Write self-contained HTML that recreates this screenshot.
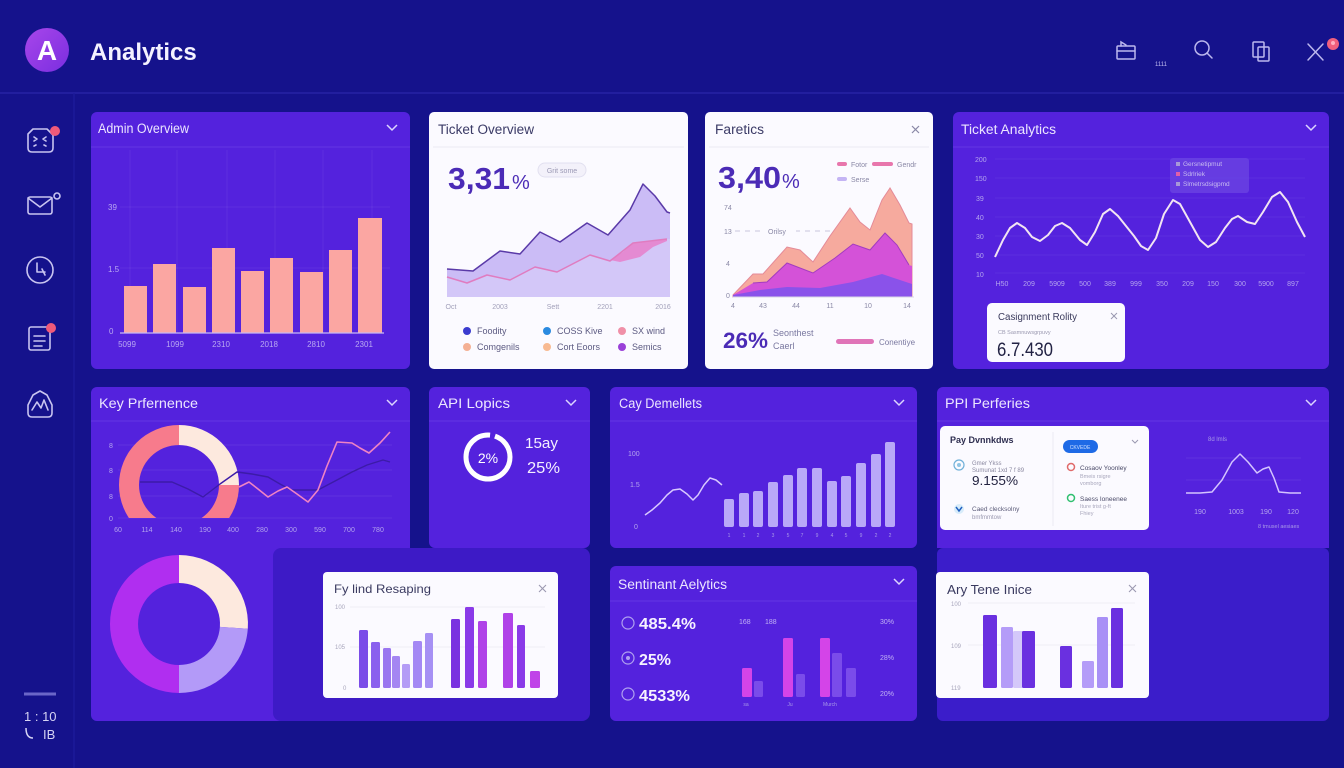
<!DOCTYPE html>
<html>
<head>
<meta charset="utf-8">
<style>
html,body{margin:0;padding:0;background:#15128c;}
svg{display:block;font-family:"Liberation Sans",sans-serif;}
</style>
</head>
<body>
<svg width="1344" height="768" viewBox="0 0 1344 768" xmlns="http://www.w3.org/2000/svg">
<defs>
<linearGradient id="logo" x1="0" y1="0" x2="1" y2="1">
<stop offset="0" stop-color="#a846ea"/><stop offset="1" stop-color="#7a2ee0"/>
</linearGradient>
<clipPath id="kpclip"><rect x="91" y="421" width="319" height="97"/></clipPath>
</defs>

<!-- background -->
<rect x="0" y="0" width="1344" height="768" fill="#15128c"/>
<line x1="0" y1="93" x2="1344" y2="93" stroke="#2622a4" stroke-width="1.5"/>
<line x1="74" y1="93" x2="74" y2="768" stroke="#1d1a9a" stroke-width="1.5"/>

<!-- header -->
<circle cx="47" cy="50" r="22" fill="url(#logo)"/>
<text x="47" y="60" font-size="28" font-weight="bold" fill="#fff" text-anchor="middle">A</text>
<text x="90" y="60" font-size="24" font-weight="bold" fill="#f4f2ff">Analytics</text>

<g fill="none" stroke="#bcb8ee" stroke-width="1.5" stroke-linecap="round">
<rect x="1117" y="46" width="18" height="13" rx="1"/>
<line x1="1117" y1="51" x2="1135" y2="51"/>
<polyline points="1121,46 1121,42 1126,45"/>
<circle cx="1202" cy="48" r="7"/>
<line x1="1207" y1="53" x2="1212" y2="58"/>
<rect x="1253" y="42" width="11" height="15" rx="1"/>
<rect x="1258" y="47" width="11" height="14" rx="1"/>
<line x1="1308" y1="44" x2="1323" y2="60"/>
<line x1="1323" y1="44" x2="1308" y2="60"/>
</g>
<text x="1161" y="66" font-size="6" fill="#bcb8ee" text-anchor="middle">1111</text>
<circle cx="1333" cy="44" r="6" fill="#f0607e"/>
<circle cx="1333" cy="43" r="2" fill="#ffb0c0"/>

<!-- sidebar icons -->
<g fill="none" stroke="#c8c4f0" stroke-width="1.6" stroke-linecap="round" stroke-linejoin="round">
<path d="M33,129 L47,129 L53,135 L53,148 Q53,152 49,152 L32,152 Q28,152 28,148 L28,134 Z"/>
<path d="M34,137 l3,2 l-3,2 M46,137 l-3,2 l3,2 M34,146 l2,-1 M46,146 l-2,-1"/>
<rect x="28" y="197" width="24" height="17" rx="2"/>
<polyline points="28,198 40,207 52,198"/>
<circle cx="57" cy="196" r="3"/>
<circle cx="40" cy="270" r="13"/>
<polyline points="37,263 37,272 45,272"/>
<line x1="42" y1="269" x2="45" y2="275"/>
<rect x="29" y="327" width="21" height="23" rx="2"/>
<line x1="34" y1="336" x2="45" y2="336"/><line x1="34" y1="341" x2="45" y2="341"/><line x1="34" y1="346" x2="42" y2="346"/>
<path d="M33,395 L40,391 L47,395 L52,405 L52,413 Q52,417 48,417 L32,417 Q28,417 28,413 L28,405 Z"/>
<polyline points="32,410 37,402 41,408 44,400 48,410"/>
</g>
<circle cx="55" cy="131" r="5" fill="#ef5a7a"/>
<circle cx="51" cy="328" r="5" fill="#ef5a7a"/>
<line x1="24" y1="694" x2="56" y2="694" stroke="#6a66c8" stroke-width="3"/>
<text x="24" y="721" font-size="13" fill="#d6d4f4">1 : 10</text>
<path d="M26,728 Q26,738 33,738" fill="none" stroke="#d6d4f4" stroke-width="1.5"/>
<text x="43" y="739" font-size="13" fill="#d6d4f4">IB</text>

<!-- ============ Admin Overview ============ -->
<rect x="91" y="112" width="319" height="257" rx="6" fill="#5422dd"/>
<text x="98" y="133" font-size="13.5" fill="#ece6ff" textLength="91" lengthAdjust="spacingAndGlyphs">Admin Overview</text>
<polyline points="387,125 392,130 397,125" fill="none" stroke="#dcd4ff" stroke-width="1.5"/>
<line x1="91" y1="147" x2="410" y2="147" stroke="#6537e4" stroke-width="1"/>
<g stroke="#ffffff" stroke-opacity="0.06">
<line x1="130" y1="150" x2="130" y2="333"/><line x1="177" y1="150" x2="177" y2="333"/><line x1="227" y1="150" x2="227" y2="333"/><line x1="275" y1="150" x2="275" y2="333"/><line x1="323" y1="150" x2="323" y2="333"/><line x1="372" y1="150" x2="372" y2="333"/>
<line x1="120" y1="207" x2="390" y2="207"/><line x1="120" y1="268" x2="390" y2="268"/>
</g>
<g font-size="8" fill="#b9a8f2">
<text x="108" y="210">39</text><text x="108" y="272">1.5</text><text x="109" y="334">0</text>
</g>
<g fill="#fba6a2">
<rect x="124" y="286" width="23" height="47"/>
<rect x="153" y="264" width="23" height="69"/>
<rect x="183" y="287" width="23" height="46"/>
<rect x="212" y="248" width="23" height="85"/>
<rect x="241" y="271" width="23" height="62"/>
<rect x="270" y="258" width="23" height="75"/>
<rect x="300" y="272" width="23" height="61"/>
<rect x="329" y="250" width="23" height="83"/>
<rect x="358" y="218" width="24" height="115"/>
</g>
<line x1="120" y1="333" x2="384" y2="333" stroke="#c8b8f4" stroke-width="1.2"/>
<g font-size="8" fill="#b9a8f2" text-anchor="middle">
<text x="127" y="347">5099</text><text x="175" y="347">1099</text><text x="221" y="347">2310</text><text x="269" y="347">2018</text><text x="316" y="347">2810</text><text x="364" y="347">2301</text>
</g>

<!-- ============ Ticket Overview ============ -->
<rect x="429" y="112" width="259" height="257" rx="5" fill="#fbfaff"/>
<text x="438" y="134" font-size="13.5" fill="#3a3a66" textLength="96" lengthAdjust="spacingAndGlyphs">Ticket Overview</text>
<line x1="433" y1="147" x2="684" y2="147" stroke="#ebe9f3"/>
<text x="448" y="189" font-size="31" font-weight="bold" fill="#4b2bb6" textLength="62" lengthAdjust="spacingAndGlyphs">3,31</text>
<text x="512" y="189" font-size="20" fill="#4b2bb6">%</text>
<rect x="538" y="163" width="48" height="14" rx="7" fill="#f3f1fa" stroke="#e2e0f0"/>
<text x="562" y="173" font-size="7" fill="#9a98b4" text-anchor="middle">Grit some</text>
<polygon points="447,297 447,269 473,271 500,251 520,254 540,232 560,242 587,223 608,235 630,210 643,184 655,196 667,212 670,213 670,297" fill="#cbbcf6"/>
<polygon points="447,297 447,277 467,283 487,275 510,280 535,267 557,272 590,255 610,261 633,243 667,239 670,239 670,297" fill="#d3c7f8"/>
<polyline points="447,269 473,271 500,251 520,254 540,232 560,242 587,223 608,235 630,210 643,184 655,196 667,212 670,213" fill="none" stroke="#5a3aa8" stroke-width="1.5" stroke-linejoin="round"/>
<polygon points="600,258 610,260 623,252 633,243 647,241 667,239 667,241 653,247 640,257 620,262" fill="#e48ad2"/>
<polyline points="447,277 467,283 487,275 510,280 535,267 557,272 590,255 610,261 633,243 667,239" fill="none" stroke="#e07cc0" stroke-width="1.5" stroke-linejoin="round"/>
<g font-size="7" fill="#a2a0ba" text-anchor="middle">
<text x="451" y="309">Oct</text><text x="500" y="309">2003</text><text x="553" y="309">Sett</text><text x="605" y="309">2201</text><text x="663" y="309">2016</text>
</g>
<g font-size="9" fill="#5c5a82">
<circle cx="467" cy="331" r="4" fill="#3b3bcf"/><text x="477" y="334">Foodity</text>
<circle cx="547" cy="331" r="4" fill="#2a8ae0"/><text x="557" y="334">COSS Kive</text>
<circle cx="622" cy="331" r="4" fill="#f090a8"/><text x="632" y="334">SX wind</text>
<circle cx="467" cy="347" r="4" fill="#f4b094"/><text x="477" y="350">Comgenils</text>
<circle cx="547" cy="347" r="4" fill="#f8ba92"/><text x="557" y="350">Cort Eoors</text>
<circle cx="622" cy="347" r="4" fill="#9a40d8"/><text x="632" y="350">Semics</text>
</g>

<!-- ============ Faretics ============ -->
<rect x="705" y="112" width="228" height="257" rx="5" fill="#fbfaff"/>
<text x="715" y="134" font-size="13.5" fill="#3a3a66" textLength="49" lengthAdjust="spacingAndGlyphs">Faretics</text>
<g stroke="#8a88a6" stroke-width="1.2"><line x1="912" y1="126" x2="919" y2="133"/><line x1="919" y1="126" x2="912" y2="133"/></g>
<line x1="709" y1="147" x2="929" y2="147" stroke="#ebe9f3"/>
<text x="718" y="188" font-size="31" font-weight="bold" fill="#4b2bb6" textLength="63" lengthAdjust="spacingAndGlyphs">3,40</text>
<text x="782" y="188" font-size="20" fill="#4b2bb6">%</text>
<rect x="837" y="162" width="10" height="4" rx="2" fill="#e876ac"/>
<text x="851" y="167" font-size="7" fill="#8a88a6">Fotor</text>
<rect x="872" y="162" width="21" height="4" rx="2" fill="#e876ac"/>
<text x="897" y="167" font-size="7" fill="#8a88a6">Gendr</text>
<rect x="837" y="177" width="10" height="4" rx="2" fill="#c4b4f4"/>
<text x="851" y="182" font-size="7" fill="#8a88a6">Serse</text>
<g font-size="7" fill="#8a88a6">
<text x="724" y="210">74</text><text x="724" y="234">13</text><text x="726" y="266">4</text><text x="726" y="298">0</text>
</g>
<line x1="735" y1="231" x2="830" y2="231" stroke="#c8c6dc" stroke-dasharray="5,5"/>
<rect x="760" y="226" width="36" height="10" fill="#fbfaff"/>
<text x="768" y="234" font-size="7" fill="#8a88a6">Orilsy</text>
<polygon points="733,297 733,295 753,274 763,274 787,247 800,250 813,262 830,236 850,208 860,222 870,230 882,200 890,188 900,205 909,223 912,224 912,297" fill="#f6aa9e" stroke="#e48a98" stroke-width="1"/>
<polygon points="733,297 733,295 753,283 767,282 787,263 813,273 835,258 853,244 870,250 885,233 897,245 909,265 912,266 912,297" fill="#d452d8"/>
<polyline points="753,283 767,282 787,263 813,273 835,258 853,244 870,250 885,233 897,245 909,265" fill="none" stroke="#a23cc0" stroke-width="1"/>
<polygon points="733,297 733,295 760,290 787,287 820,288 853,282 882,274 909,283 912,284 912,297" fill="#8a52ea"/>
<line x1="733" y1="297" x2="914" y2="297" stroke="#d8d6e6"/>
<g font-size="7" fill="#8a88a6" text-anchor="middle">
<text x="733" y="308">4</text><text x="763" y="308">43</text><text x="796" y="308">44</text><text x="830" y="308">11</text><text x="868" y="308">10</text><text x="907" y="308">14</text>
</g>
<text x="723" y="348" font-size="22" font-weight="bold" fill="#4b2bb6" textLength="45" lengthAdjust="spacingAndGlyphs">26%</text>
<text x="773" y="336" font-size="9" fill="#7a78a0">Seonthest</text>
<text x="773" y="349" font-size="9" fill="#7a78a0">Caerl</text>
<rect x="836" y="339" width="38" height="5" rx="2.5" fill="#e074b8"/>
<text x="879" y="345" font-size="8" fill="#7a78a0">Conentiye</text>

<!-- ============ Ticket Analytics ============ -->
<rect x="953" y="112" width="376" height="257" rx="6" fill="#5422dd"/>
<text x="961" y="134" font-size="13.5" fill="#ece6ff" textLength="95" lengthAdjust="spacingAndGlyphs">Ticket Analytics</text>
<polyline points="1306,125 1311,130 1316,125" fill="none" stroke="#dcd4ff" stroke-width="1.5"/>
<line x1="953" y1="147" x2="1329" y2="147" stroke="#6537e4"/>
<g stroke="#ffffff" stroke-opacity="0.05">
<line x1="995" y1="159" x2="1305" y2="159"/><line x1="995" y1="178" x2="1305" y2="178"/><line x1="995" y1="198" x2="1305" y2="198"/><line x1="995" y1="217" x2="1305" y2="217"/><line x1="995" y1="236" x2="1305" y2="236"/><line x1="995" y1="255" x2="1305" y2="255"/><line x1="995" y1="273" x2="1305" y2="273"/>
</g>
<g font-size="7" fill="#b4a4ee">
<text x="975" y="162">200</text><text x="975" y="181">150</text><text x="976" y="201">39</text><text x="976" y="220">40</text><text x="976" y="239">30</text><text x="976" y="258">50</text><text x="976" y="277">10</text>
</g>
<g font-size="7" fill="#b4a4ee" text-anchor="middle">
<text x="1002" y="286">H50</text><text x="1029" y="286">209</text><text x="1057" y="286">5909</text><text x="1085" y="286">500</text><text x="1110" y="286">389</text><text x="1136" y="286">999</text><text x="1162" y="286">350</text><text x="1188" y="286">209</text><text x="1213" y="286">150</text><text x="1240" y="286">300</text><text x="1266" y="286">5900</text><text x="1293" y="286">897</text>
</g>
<rect x="1170" y="158" width="79" height="35" rx="3" fill="#6a44e2" opacity="0.8"/>
<rect x="1176" y="162" width="4" height="4" fill="#a898d8"/><text x="1183" y="166" font-size="6.5" fill="#c8bcf0">Gersnetipmut</text>
<rect x="1176" y="172" width="4" height="4" fill="#e060a8"/><text x="1183" y="176" font-size="6.5" fill="#c8bcf0">Sdrlriek</text>
<rect x="1176" y="182" width="4" height="4" fill="#a898d8"/><text x="1183" y="186" font-size="6.5" fill="#c8bcf0">Slmetrsdsigpmd</text>
<polyline points="995,257 1003,240 1010,228 1017,223 1025,228 1032,237 1040,241 1048,235 1055,226 1062,223 1070,228 1080,240 1087,245 1095,232 1103,214 1110,209 1118,216 1126,226 1134,236 1141,246 1148,250 1156,238 1164,214 1173,200 1180,204 1190,222 1200,240 1208,247 1216,242 1225,228 1232,219 1238,216 1247,222 1255,224 1263,212 1272,197 1280,192 1288,202 1297,222 1305,237" fill="none" stroke="#f2e4f2" stroke-width="2" stroke-linejoin="round"/>
<rect x="987" y="303" width="138" height="59" rx="5" fill="#fbfaff"/>
<text x="998" y="320" font-size="10" fill="#3a3a5c" textLength="79" lengthAdjust="spacingAndGlyphs">Casignment Rolity</text>
<g stroke="#9a98b0" stroke-width="1"><line x1="1111" y1="313" x2="1117" y2="319"/><line x1="1117" y1="313" x2="1111" y2="319"/></g>
<text x="998" y="334" font-size="5.5" fill="#9a98b0">CB  Sasmnuwsgrpuvy</text>
<text x="997" y="356" font-size="19" fill="#222244" textLength="56" lengthAdjust="spacingAndGlyphs">6.7.430</text>

<!-- ============ Key Prfernence ============ -->
<rect x="91" y="387" width="319" height="334" rx="6" fill="#5422dd"/>
<text x="99" y="408" font-size="13.5" fill="#ece6ff" textLength="99" lengthAdjust="spacingAndGlyphs">Key Prfernence</text>
<polyline points="387,400 392,405 397,400" fill="none" stroke="#dcd4ff" stroke-width="1.5"/>
<line x1="91" y1="421" x2="410" y2="421" stroke="#6537e4"/>
<g stroke="#ffffff" stroke-opacity="0.08">
<line x1="118" y1="445" x2="392" y2="445"/><line x1="118" y1="470" x2="392" y2="470"/><line x1="118" y1="496" x2="392" y2="496"/><line x1="118" y1="518" x2="392" y2="518"/>
</g>
<g font-size="7" fill="#b4a4ee">
<text x="109" y="448">8</text><text x="109" y="473">8</text><text x="109" y="499">8</text><text x="109" y="521">0</text>
</g>
<g clip-path="url(#kpclip)">
<path d="M239,485 A60,60 0 1 1 179,425 L179,445 A40,40 0 1 0 219,485 Z" fill="#f77b8c"/>
<path d="M179,425 A60,60 0 0 1 239,485 L219,485 A40,40 0 0 0 179,445 Z" fill="#fde9de"/>
</g>
<polyline points="140,482 172,482 188,489 203,497 220,484 237,472 252,474 268,477 280,484 291,490 318,490 337,480 352,472 367,465 383,460 390,462" fill="none" stroke="#3c1ba8" stroke-width="1.4" stroke-linejoin="round"/>
<polyline points="239,487 249,482 258,489 268,497 278,491 287,487 297,494 308,502 318,490 327,466 337,442 352,443 360,448 369,453 380,443 390,432" fill="none" stroke="#f083c4" stroke-width="1.6" stroke-linejoin="round"/>
<g font-size="7" fill="#b4a4ee" text-anchor="middle">
<text x="118" y="532">60</text><text x="147" y="532">114</text><text x="176" y="532">140</text><text x="205" y="532">190</text><text x="233" y="532">400</text><text x="262" y="532">280</text><text x="291" y="532">300</text><text x="320" y="532">590</text><text x="349" y="532">700</text><text x="378" y="532">780</text>
</g>
<!-- lower donut -->
<path d="M179,693 A69,69 0 0 1 179,555 L179,583 A41,41 0 0 0 179,665 Z" fill="#b02ef0"/>
<path d="M179,555 A69,69 0 0 1 247.8,628.8 L219.9,626.9 A41,41 0 0 0 179,583 Z" fill="#fde9de"/>
<path d="M247.8,628.8 A69,69 0 0 1 179,693 L179,665 A41,41 0 0 0 219.9,626.9 Z" fill="#b39af8"/>

<!-- dark panel -->
<rect x="273" y="548" width="317" height="173" rx="8" fill="#3d1ac6"/>
<rect x="323" y="572" width="235" height="126" rx="4" fill="#fbfaff"/>
<text x="334" y="593" font-size="12" fill="#3a3a60" textLength="97" lengthAdjust="spacingAndGlyphs">Fy lind Resaping</text>
<g stroke="#9a98b0" stroke-width="1.1"><line x1="539" y1="585" x2="546" y2="592"/><line x1="546" y1="585" x2="539" y2="592"/></g>
<g stroke="#efedf6"><line x1="350" y1="607" x2="545" y2="607"/><line x1="350" y1="647" x2="545" y2="647"/></g>
<g font-size="6" fill="#a8a6bc"><text x="335" y="609">100</text><text x="335" y="649">105</text><text x="343" y="690">0</text></g>
<rect x="359" y="630" width="9" height="58" rx="1.5" fill="#7a4ce8"/>
<rect x="371" y="642" width="9" height="46" rx="1.5" fill="#8a60ee"/>
<rect x="383" y="648" width="8" height="40" rx="1.5" fill="#9a76f0"/>
<rect x="392" y="656" width="8" height="32" rx="1.5" fill="#a486f2"/>
<rect x="402" y="664" width="8" height="24" rx="1.5" fill="#b49cf6"/>
<rect x="413" y="641" width="9" height="47" rx="1.5" fill="#a488f4"/>
<rect x="425" y="633" width="8" height="55" rx="1.5" fill="#a690f4"/>
<rect x="451" y="619" width="9" height="69" rx="1.5" fill="#7a32e0"/>
<rect x="465" y="607" width="9" height="81" rx="1.5" fill="#8a3ae8"/>
<rect x="478" y="621" width="9" height="67" rx="1.5" fill="#b042e8"/>
<rect x="503" y="613" width="10" height="75" rx="1.5" fill="#b042e8"/>
<rect x="517" y="625" width="8" height="63" rx="1.5" fill="#8a3ae8"/>
<rect x="530" y="671" width="10" height="17" rx="1.5" fill="#c044e8"/>

<!-- ============ API Lopics ============ -->
<rect x="429" y="387" width="161" height="161" rx="6" fill="#5422dd"/>
<text x="438" y="408" font-size="13.5" fill="#ece6ff" textLength="72" lengthAdjust="spacingAndGlyphs">API Lopics</text>
<polyline points="566,400 571,405 576,400" fill="none" stroke="#dcd4ff" stroke-width="1.5"/>
<line x1="429" y1="421" x2="590" y2="421" stroke="#6537e4"/>
<circle cx="488" cy="457" r="22" fill="none" stroke="#ffffff" stroke-width="5" stroke-dasharray="105.6 5 40"/>
<text x="488" y="463" font-size="14" fill="#ffffff" text-anchor="middle">2%</text>
<text x="525" y="448" font-size="15" fill="#f4f0ff" textLength="33" lengthAdjust="spacingAndGlyphs">15ay</text>
<text x="527" y="473" font-size="16" fill="#f4f0ff" textLength="33" lengthAdjust="spacingAndGlyphs">25%</text>

<!-- ============ Cay Demellets ============ -->
<rect x="610" y="387" width="307" height="161" rx="6" fill="#5422dd"/>
<text x="619" y="408" font-size="13.5" fill="#ece6ff" textLength="83" lengthAdjust="spacingAndGlyphs">Cay Demellets</text>
<polyline points="894,400 899,405 904,400" fill="none" stroke="#dcd4ff" stroke-width="1.5"/>
<line x1="610" y1="421" x2="917" y2="421" stroke="#6537e4"/>
<g font-size="7" fill="#b4a4ee"><text x="628" y="456">100</text><text x="630" y="487">1.5</text><text x="634" y="529">0</text></g>
<polyline points="645,515 652,510 660,503 667,495 673,490 680,489 687,494 693,500 698,495 704,485 710,478 716,480 722,485" fill="none" stroke="#d8c8ff" stroke-width="1.5" stroke-linejoin="round"/>
<g fill="#b9a8f8">
<rect x="724" y="499" width="10" height="28" rx="2"/>
<rect x="739" y="493" width="10" height="34" rx="2"/>
<rect x="753" y="491" width="10" height="36" rx="2"/>
<rect x="768" y="482" width="10" height="45" rx="2"/>
<rect x="783" y="475" width="10" height="52" rx="2"/>
<rect x="797" y="468" width="10" height="59" rx="2"/>
<rect x="812" y="468" width="10" height="59" rx="2"/>
<rect x="827" y="481" width="10" height="46" rx="2"/>
<rect x="841" y="476" width="10" height="51" rx="2"/>
<rect x="856" y="463" width="10" height="64" rx="2"/>
<rect x="871" y="454" width="10" height="73" rx="2"/>
<rect x="885" y="442" width="10" height="85" rx="2"/>
</g>
<g font-size="5" fill="#a898e8" text-anchor="middle">
<text x="729" y="537">1</text><text x="744" y="537">1</text><text x="758" y="537">2</text><text x="773" y="537">3</text><text x="788" y="537">5</text><text x="802" y="537">7</text><text x="817" y="537">9</text><text x="832" y="537">4</text><text x="846" y="537">5</text><text x="861" y="537">9</text><text x="876" y="537">2</text><text x="890" y="537">2</text>
</g>

<!-- ============ PPI Perferies ============ -->
<rect x="937" y="548" width="392" height="173" rx="6" fill="#3b1dca"/>
<rect x="937" y="387" width="392" height="161" rx="6" fill="#5422dd"/>
<rect x="937" y="538" width="392" height="10" fill="#5422dd"/>
<text x="945" y="408" font-size="13.5" fill="#ece6ff" textLength="85" lengthAdjust="spacingAndGlyphs">PPI Perferies</text>
<polyline points="1306,400 1311,405 1316,400" fill="none" stroke="#dcd4ff" stroke-width="1.5"/>
<line x1="937" y1="421" x2="1329" y2="421" stroke="#6537e4"/>
<rect x="940" y="426" width="209" height="104" rx="5" fill="#fbfaff"/>
<line x1="1053" y1="432" x2="1053" y2="526" stroke="#ebe9f3"/>
<text x="950" y="443" font-size="9" font-weight="bold" fill="#2e2e50">Pay Dvnnkdws</text>
<circle cx="959" cy="465" r="5" fill="none" stroke="#70b0d8" stroke-width="1.2"/>
<circle cx="959" cy="465" r="2" fill="#90c4e4"/>
<text x="972" y="465" font-size="6" fill="#8a88a0">Gmer Ykss</text>
<text x="972" y="472" font-size="6" fill="#8a88a0">Sumunat 1xd 7 f 89</text>
<text x="972" y="485" font-size="13" fill="#222240" textLength="46" lengthAdjust="spacingAndGlyphs">9.155%</text>
<circle cx="959" cy="509" r="5" fill="#d8ecfa"/>
<path d="M956,507 L959,511 L962,507" fill="none" stroke="#2060c0" stroke-width="1.5"/>
<text x="972" y="511" font-size="6.5" fill="#5a5a78">Caed clecksolny</text>
<text x="972" y="519" font-size="6" fill="#9a98b0">bmfmmtow</text>
<rect x="1063" y="440" width="35" height="13" rx="6.5" fill="#1e6ae6"/>
<text x="1080" y="449" font-size="5" fill="#cfe0ff" text-anchor="middle">CKVEDE</text>
<polyline points="1132,440 1135,443 1138,440" fill="none" stroke="#9a98b0" stroke-width="1"/>
<circle cx="1071" cy="467" r="3.5" fill="none" stroke="#e06a6a" stroke-width="1.5"/>
<text x="1080" y="470" font-size="6.5" fill="#4a4a68">Cosaov Yoonley</text>
<text x="1080" y="478" font-size="5.5" fill="#a8a6bc">Bmeis rsigre</text>
<text x="1080" y="485" font-size="5.5" fill="#a8a6bc">vomborg</text>
<circle cx="1071" cy="498" r="3.5" fill="none" stroke="#30c070" stroke-width="1.5"/>
<text x="1080" y="501" font-size="6.5" fill="#4a4a68">Saess Ioneenee</text>
<text x="1080" y="508" font-size="5.5" fill="#a8a6bc">Iture trist g-ft</text>
<text x="1080" y="515" font-size="5.5" fill="#a8a6bc">Fhiey</text>
<text x="1208" y="441" font-size="6" fill="#a898e8">8d lmls</text>
<g stroke="#ffffff" stroke-opacity="0.07"><line x1="1186" y1="458" x2="1301" y2="458"/><line x1="1186" y1="480" x2="1301" y2="480"/></g>
<polyline points="1186,493 1200,493 1212,492 1222,480 1232,462 1240,454 1248,462 1257,473 1263,469 1269,467 1274,478 1279,492 1290,493 1301,493" fill="none" stroke="#d4c4ff" stroke-width="1.5" stroke-linejoin="round"/>
<g font-size="7" fill="#b4a4ee" text-anchor="middle"><text x="1200" y="514">190</text><text x="1236" y="514">1003</text><text x="1266" y="514">190</text><text x="1293" y="514">120</text></g>
<text x="1258" y="528" font-size="5.5" fill="#a898e8">8 tmusel aesiaes</text>

<rect x="936" y="572" width="213" height="126" rx="4" fill="#fbfaff"/>
<text x="947" y="594" font-size="13" fill="#3a3a60" textLength="85" lengthAdjust="spacingAndGlyphs">Ary Tene Inice</text>
<g stroke="#9a98b0" stroke-width="1.1"><line x1="1129" y1="585" x2="1136" y2="592"/><line x1="1136" y1="585" x2="1129" y2="592"/></g>
<g stroke="#efedf6"><line x1="968" y1="603" x2="1135" y2="603"/><line x1="968" y1="645" x2="1135" y2="645"/></g>
<g font-size="6" fill="#a8a6bc"><text x="951" y="606">100</text><text x="951" y="648">109</text><text x="951" y="690">119</text></g>
<rect x="983" y="615" width="14" height="73" rx="1.5" fill="#6a30e0"/>
<rect x="1001" y="627" width="12" height="61" rx="1.5" fill="#b49cf8"/>
<rect x="1013" y="631" width="10" height="57" rx="1.5" fill="#d4c8fa"/>
<rect x="1022" y="631" width="13" height="57" rx="1.5" fill="#6a30e0"/>
<rect x="1060" y="646" width="12" height="42" rx="1.5" fill="#6a30e0"/>
<rect x="1082" y="661" width="12" height="27" rx="1.5" fill="#b49cf8"/>
<rect x="1097" y="617" width="11" height="71" rx="1.5" fill="#a890f6"/>
<rect x="1111" y="608" width="12" height="80" rx="1.5" fill="#6a30e0"/>

<!-- ============ Sentinant Aelytics ============ -->
<rect x="610" y="566" width="307" height="155" rx="6" fill="#5422dd"/>
<text x="618" y="589" font-size="13.5" fill="#ece6ff" textLength="109" lengthAdjust="spacingAndGlyphs">Sentinant Aelytics</text>
<polyline points="894,579 899,584 904,579" fill="none" stroke="#dcd4ff" stroke-width="1.5"/>
<line x1="610" y1="601" x2="917" y2="601" stroke="#6537e4"/>
<g fill="none" stroke="#b0a0f0" stroke-width="1.2">
<circle cx="628" cy="623" r="6"/><circle cx="628" cy="658" r="6"/><circle cx="628" cy="694" r="6"/>
</g>
<g fill="#b0a0f0"><circle cx="628" cy="658" r="2"/></g>
<text x="639" y="629" font-size="16" font-weight="bold" fill="#f6f2ff" textLength="57" lengthAdjust="spacingAndGlyphs">485.4%</text>
<text x="639" y="665" font-size="16" font-weight="bold" fill="#f6f2ff" textLength="32" lengthAdjust="spacingAndGlyphs">25%</text>
<text x="639" y="701" font-size="16" font-weight="bold" fill="#f6f2ff" textLength="51" lengthAdjust="spacingAndGlyphs">4533%</text>
<g font-size="7" fill="#c0b0f4">
<text x="739" y="624">168</text><text x="765" y="624">188</text>
<text x="880" y="624">30%</text><text x="880" y="660">28%</text><text x="880" y="696">20%</text>
</g>
<rect x="742" y="668" width="10" height="29" rx="1.5" fill="#d444e8"/>
<rect x="754" y="681" width="9" height="16" rx="1.5" fill="#7a4cea"/>
<rect x="783" y="638" width="10" height="59" rx="1.5" fill="#d444e8"/>
<rect x="796" y="674" width="9" height="23" rx="1.5" fill="#7a4cea"/>
<rect x="820" y="638" width="10" height="59" rx="1.5" fill="#d444e8"/>
<rect x="832" y="653" width="10" height="44" rx="1.5" fill="#7a4cea"/>
<rect x="846" y="668" width="10" height="29" rx="1.5" fill="#7a4cea"/>
<g font-size="5" fill="#a898e8" text-anchor="middle"><text x="746" y="706">sa</text><text x="790" y="706">Ju</text><text x="830" y="706">Murch</text></g>
</svg>
</body>
</html>
